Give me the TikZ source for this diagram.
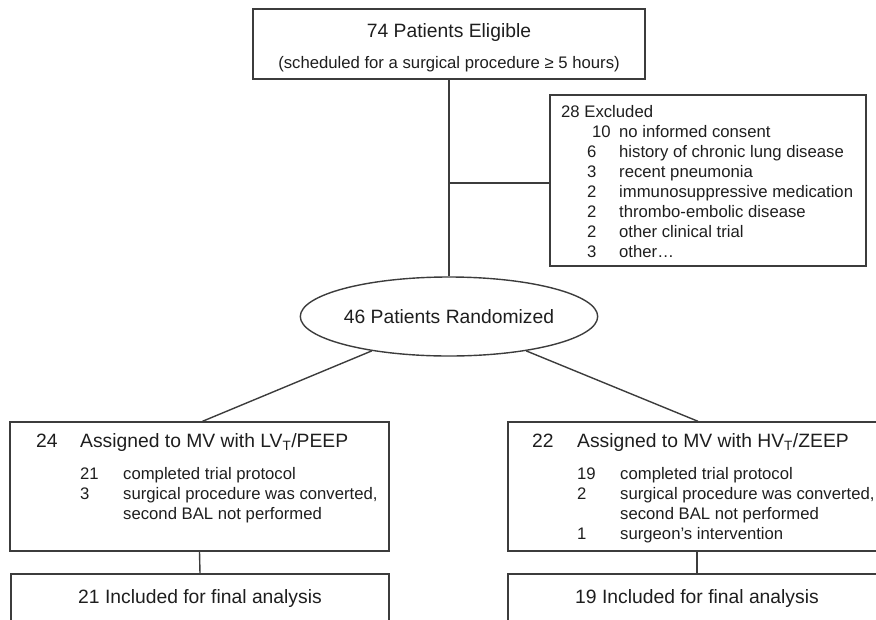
\documentclass[tikz,border=0pt]{standalone}
\usepackage{fontspec}
\setmainfont{Liberation Sans}
\usetikzlibrary{shapes.geometric}
\definecolor{inkgray}{RGB}{30,30,30}
\definecolor{edgegray}{RGB}{60,60,60}
\newcommand{\bigfont}{\fontsize{19.3}{23}\selectfont}
\newcommand{\smallfont}{\fontsize{16.7}{20}\selectfont}
\tikzset{
  box/.style={draw=edgegray,line width=1.4pt,rectangle,inner sep=0pt,font=\bigfont,text=inkgray},
  oval/.style={draw=edgegray,line width=1.4pt,ellipse,inner sep=0pt,minimum width=296pt,minimum height=79pt,font=\bigfont,text=inkgray},
  link/.style={draw=edgegray,line width=1.4pt},
  bigtxt/.style={font=\bigfont,text=inkgray,inner sep=0pt,anchor=base west},
  smalltxt/.style={font=\smallfont,text=inkgray,inner sep=0pt,anchor=base west}
}

\begin{document}
\begin{tikzpicture}[x=1pt,y=-1pt]
  \useasboundingbox (0,0) rectangle (876,619);
  \clip (0,0) rectangle (876,619);

  % boxes
  \node[box,minimum width=392pt,minimum height=70pt] (elig) at (449,44) {};
  \node[box,minimum width=316pt,minimum height=171pt] (excl) at (708,180.5) {};
  \node[oval] (rand) at (449,316.5) {46 Patients Randomized};
  \node[box,minimum width=379pt,minimum height=129pt] (lvt) at (199.5,486.5) {};
  \node[box,minimum width=378pt,minimum height=129pt] (hvt) at (697,486.5) {};
  \node[box,minimum width=378pt,minimum height=50pt] (lfin) at (200,599) {21 Included for final analysis};
  \node[box,minimum width=378pt,minimum height=50pt] (hfin) at (697,599) {19 Included for final analysis};

  % connectors
  \draw[link] (elig.south) -- (rand.north);
  \coordinate (split) at (449,183);
  \draw[link] (split) -- (split -| excl.west);
  \draw[link] (rand.204) -- ([xshift=3pt]lvt.north);
  \draw[link] (rand.336) -- ([xshift=1pt]hvt.north);
  \draw[link] (lvt.south) -- (lfin.north);
  \draw[link] (hvt.south) -- (hfin.north);

  % eligible
  \node[bigtxt,anchor=base] (eligT) at (449,37) {74 Patients Eligible};
  \node[smalltxt,anchor=base] (eligS) at (449,68) {(scheduled for a surgical procedure ≥ 5 hours)};

  % excluded
  \node[smalltxt] (exH) at (561,117) {28 Excluded};
  \node[smalltxt] (ex1n) at (592,137) {10}; \node[smalltxt] (ex1t) at (619,137) {no informed consent};
  \node[smalltxt] (ex2n) at (587,157) {6}; \node[smalltxt] (ex2t) at (619,157) {history of chronic lung disease};
  \node[smalltxt] (ex3n) at (587,177) {3}; \node[smalltxt] (ex3t) at (619,177) {recent pneumonia};
  \node[smalltxt] (ex4n) at (587,197) {2}; \node[smalltxt] (ex4t) at (619,197) {immunosuppressive medication};
  \node[smalltxt] (ex5n) at (587,217) {2}; \node[smalltxt] (ex5t) at (619,217) {thrombo-embolic disease};
  \node[smalltxt] (ex6n) at (587,237) {2}; \node[smalltxt] (ex6t) at (619,237) {other clinical trial};
  \node[smalltxt] (ex7n) at (587,257) {3}; \node[smalltxt] (ex7t) at (619,257) {other…};

  % LVT/PEEP arm
  \node[bigtxt] (lvtN) at (36,447) {24}; \node[bigtxt] (lvtH) at (80,447) {Assigned to MV with LV\textsubscript{T}/PEEP};
  \node[smalltxt] (lvt1n) at (80,479) {21}; \node[smalltxt] (lvt1t) at (123,479) {completed trial protocol};
  \node[smalltxt] (lvt2n) at (80,499) {3}; \node[smalltxt] (lvt2t) at (123,499) {surgical procedure was converted,};
  \node[smalltxt] (lvt3t) at (123,519) {second BAL not performed};

  % HVT/ZEEP arm
  \node[bigtxt] (hvtN) at (532,447) {22}; \node[bigtxt] (hvtH) at (577,447) {Assigned to MV with HV\textsubscript{T}/ZEEP};
  \node[smalltxt] (hvt1n) at (577,479) {19}; \node[smalltxt] (hvt1t) at (620,479) {completed trial protocol};
  \node[smalltxt] (hvt2n) at (577,499) {2}; \node[smalltxt] (hvt2t) at (620,499) {surgical procedure was converted,};
  \node[smalltxt] (hvt3t) at (620,519) {second BAL not performed};
  \node[smalltxt] (hvt4n) at (577,539) {1}; \node[smalltxt] (hvt4t) at (620,539) {surgeon’s intervention};
\end{tikzpicture}
\end{document}
